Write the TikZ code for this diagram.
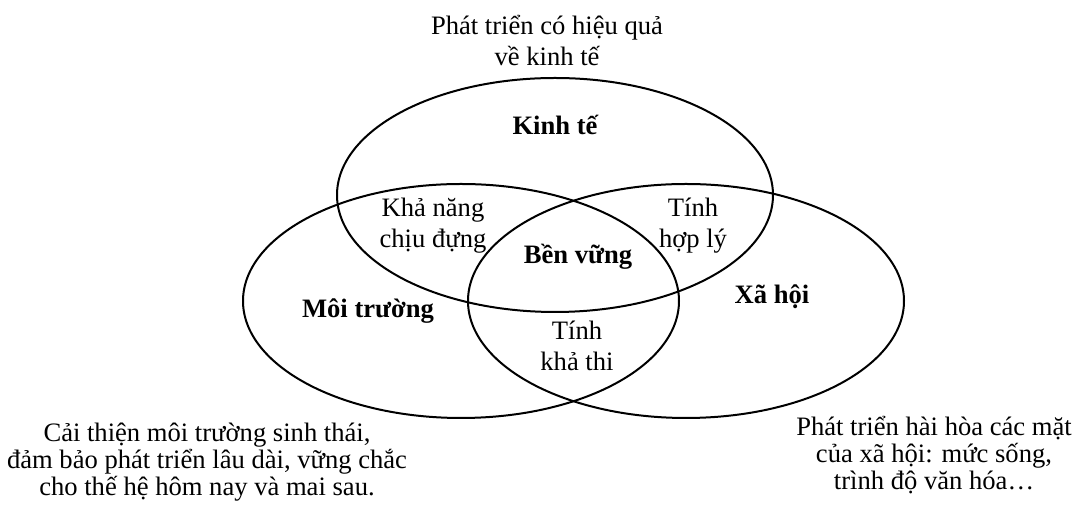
\documentclass[tikz,border=0pt]{standalone}
\usepackage{fontspec}
\setmainfont{Liberation Serif}
\usetikzlibrary{shapes.geometric}

\begin{document}
\begin{tikzpicture}[x=0.5pt, y=-0.5pt,
    set/.style={draw, line width=1pt, ellipse, minimum width=218pt, minimum height=117pt},
    txt/.style={align=center, inner sep=0pt, font=\fontsize{13.3}{15.5}\selectfont},
    note/.style={txt, font=\fontsize{13.3}{13.6}\selectfont},
    head/.style={txt, font=\fontsize{13.3}{15.5}\selectfont\bfseries}]
    \useasboundingbox (0,0) rectangle (1078,506);
    \node[set] (kinhte) at (555,195) {};
    \node[set] (moitruong) at (461,301) {};
    \node[set] (xahoi) at (686,301) {};
    \node[head] (lkinhte) at (555,125) {Kinh tế};
    \node[head] (lmoitruong) at (368,311) {Môi trường};
    \node[head] (lxahoi) at (772,297) {Xã hội};
    \node[head] (lbenvung) at (578,257) {Bền vững};
    \node[txt] (chiudung) at (433,226) {Khả năng\\chịu đựng};
    \node[txt] (hoply) at (693,226) {Tính\\hợp lý};
    \node[txt] (khathi) at (577,346) {Tính\\khả thi};
    \node[txt] (dkinhte) at (547,41) {Phát triển có hiệu quả\\về kinh tế};
    \node[note] (dmoitruong) at (207,462) {Cải thiện môi trường sinh thái,\\đảm bảo phát triển lâu dài, vững chắc\\cho thế hệ hôm nay và mai sau.};
    \node[note] (dxahoi) at (934,455) {Phát triển hài hòa các mặt\\của xã hội: mức sống,\\trình độ văn hóa…};
\end{tikzpicture}
\end{document}
